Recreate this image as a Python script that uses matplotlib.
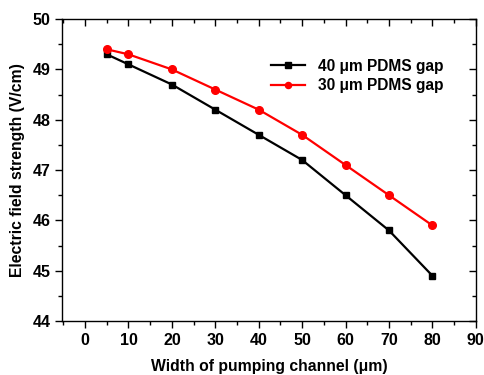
import matplotlib
matplotlib.use("Agg")
import matplotlib.pyplot as plt
from matplotlib.ticker import MultipleLocator

# dados
largura = [5, 10, 20, 30, 40, 50, 60, 70, 80]
campo_40 = [49.3, 49.1, 48.7, 48.2, 47.7, 47.2, 46.5, 45.8, 44.9]
campo_30 = [49.4, 49.3, 49.0, 48.6, 48.2, 47.7, 47.1, 46.5, 45.9]
rotulos = ["40 \u03bcm PDMS gap", "30 \u03bcm PDMS gap"]

plt.rcParams['font.family'] = ['Liberation Sans', 'DejaVu Sans']
plt.rcParams['font.weight'] = 'bold'

fig = plt.figure(figsize=(4.85, 3.75), dpi=100)
ax = fig.add_axes([0.128, 0.144, 0.853, 0.805])

ax.plot(largura, campo_40, color='black', marker='s', markersize=5, linewidth=1.6, label=rotulos[0])
ax.plot(largura, campo_30, color='red', marker='o', markersize=5.5, linewidth=1.6, label=rotulos[1])

ax.set_xlim(-5.3, 90)
ax.set_ylim(44, 50)
ax.xaxis.set_major_locator(MultipleLocator(10))
ax.xaxis.set_minor_locator(MultipleLocator(5))
ax.yaxis.set_major_locator(MultipleLocator(1))
ax.yaxis.set_minor_locator(MultipleLocator(0.5))

ax.tick_params(which='both', direction='out', top=True, right=True, labelsize=11.5, width=1)
ax.tick_params(which='major', length=5)
ax.tick_params(which='minor', length=3)
# ticks de cima e da direita apontam para dentro
for t in ax.xaxis.get_major_ticks() + ax.xaxis.get_minor_ticks():
    t.tick2line.set_marker(3)
for t in ax.yaxis.get_major_ticks() + ax.yaxis.get_minor_ticks():
    t.tick2line.set_marker(0)

for s in ax.spines.values():
    s.set_linewidth(1)

ax.set_xlabel("Width of pumping channel (\u03bcm)", fontsize=11.3, fontweight='bold', labelpad=8)
ax.set_ylabel("Electric field strength (V/cm)", fontsize=11.3, fontweight='bold', labelpad=5)

ax.legend(loc='upper right', bbox_to_anchor=(0.955, 0.915), frameon=False, fontsize=11.2,
          handlelength=2.2, labelspacing=0.3, markerscale=0.8)

fig.savefig("out.png", dpi=100)
